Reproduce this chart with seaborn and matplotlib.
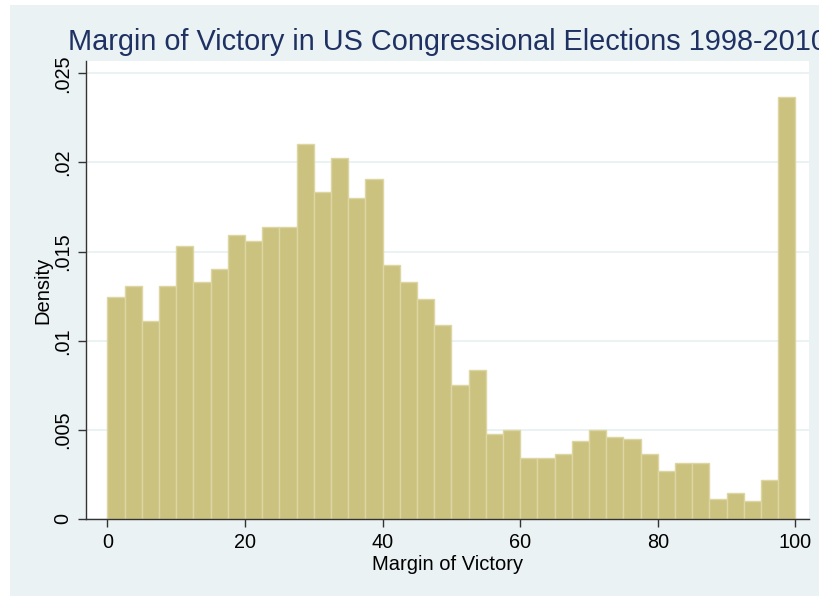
import numpy as np
import pandas as pd
import matplotlib
matplotlib.use("Agg")
import matplotlib.pyplot as plt
from matplotlib.patches import Rectangle
import seaborn as sns

# Histogram of margin of victory: 40 bins of width 2.5 over 0-100
bin_width = 2.5
bin_range = (0, 100)
density = [
    0.01244, 0.01305, 0.01112, 0.01305, 0.01533, 0.01328, 0.01400, 0.01593,
    0.01557, 0.01640, 0.01640, 0.02102, 0.01836, 0.02027, 0.01799, 0.01907,
    0.01425, 0.01328, 0.01232, 0.01086, 0.00750, 0.00834, 0.00475, 0.00497,
    0.00340, 0.00340, 0.00365, 0.00438, 0.00497, 0.00462, 0.00451, 0.00365,
    0.00267, 0.00316, 0.00316, 0.00112, 0.00148, 0.00099, 0.00221, 0.02365,
]
x_ticks = [0, 20, 40, 60, 80, 100]
y_ticks = [0, 0.005, 0.01, 0.015, 0.02, 0.025]
y_tick_labels = ["0", ".005", ".01", ".015", ".02", ".025"]

title = "Margin of Victory in US Congressional Elections 1998-2010"
x_label = "Margin of Victory"
y_label = "Density"

mids = bin_range[0] + bin_width * (np.arange(len(density)) + 0.5)
hist_df = pd.DataFrame({"mid": mids, "density": density})

sns.set_theme(style="white")
plt.rcParams["font.family"] = ["Liberation Sans", "DejaVu Sans"]

BG = "#EAF2F3"
BAR = "#CBC27F"
BAR_EDGE = "#DCD6A3"
NAVY = "#1F3163"
AXIS = "#333333"

W, H = 820, 596
fig = plt.figure(figsize=(W / 100, H / 100), dpi=100, facecolor="white")
fig.patches.append(Rectangle((10 / W, 0), 1 - 10 / W, (H - 5) / H,
                             transform=fig.transFigure, facecolor=BG,
                             edgecolor="none", zorder=-10))

left, right, top, bottom = 86, 809, 61, 519
ax = fig.add_axes([left / W, (H - bottom) / H,
                   (right - left) / W, (bottom - top) / H])
ax.set_zorder(1)
ax.set_facecolor("white")

sns.histplot(data=hist_df, x="mid", weights="density",
             binwidth=bin_width, binrange=bin_range,
             stat="count", color=BAR, edgecolor=BAR_EDGE, linewidth=1.0,
             alpha=1.0, ax=ax)

px_per_unit = (795.5 - 107.4) / 100
ax.set_xlim(-(107.4 - left) / px_per_unit, (right - 107.4) / px_per_unit)
px_per_dens = (519 - 73.3) / 0.025
ax.set_ylim(0, (bottom - top) / px_per_dens)

ax.set_xticks(x_ticks)
ax.set_xticklabels([str(v) for v in x_ticks])
ax.set_yticks(y_ticks)
ax.set_yticklabels(y_tick_labels, rotation=90, va="center")

ax.set_axisbelow(True)
ax.yaxis.grid(True, color=BG, linewidth=1.4)
ax.xaxis.grid(False)

for side in ("top", "right"):
    ax.spines[side].set_visible(False)
for side in ("left", "bottom"):
    ax.spines[side].set_color(AXIS)
    ax.spines[side].set_linewidth(1.0)

ax.tick_params(axis="both", which="major", direction="out", length=6,
               width=1.0, color=AXIS, labelsize=14.3, labelcolor="black",
               bottom=True, left=True)
ax.tick_params(axis="x", pad=4)
ax.tick_params(axis="y", pad=4)

ax.set_xlabel(x_label, fontsize=14.5, color="black")
ax.set_ylabel(y_label, fontsize=14.5, color="black", va="center")
ax.xaxis.set_label_coords(0.5, -(570 - bottom) / (bottom - top))
ax.xaxis.label.set_va("baseline")
ax.yaxis.set_label_coords(-(left - 43) / (right - left), 0.5)

fig.text(68 / W, (H - 49.5) / H, title, fontsize=20.8, color=NAVY,
         ha="left", va="baseline")

fig.savefig("out.png", dpi=100, facecolor=fig.get_facecolor())
